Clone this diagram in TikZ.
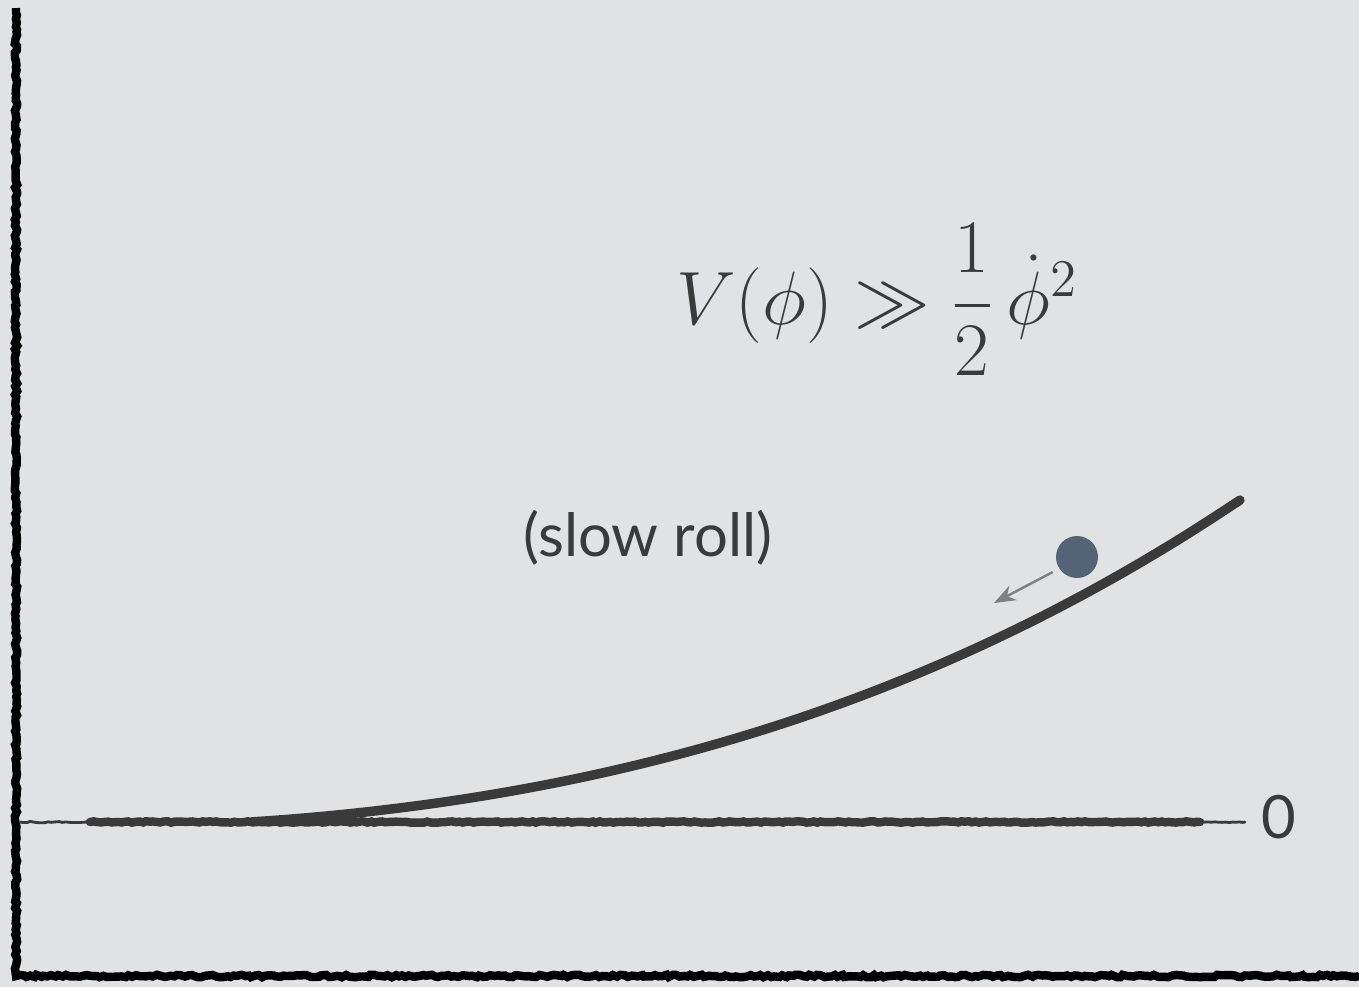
\RequirePackage{fix-cm}
\documentclass[tikz,border=0pt]{standalone}
\usepackage{amsmath,amssymb}
\usepackage{fontspec}
\newfontfamily\gillfont{Lato}
\usetikzlibrary{arrows.meta,decorations.pathmorphing}
\definecolor{paper}{HTML}{E1E2E4}
\definecolor{chalk}{HTML}{3A3A3A}
\definecolor{inkball}{HTML}{546376}
\tikzset{
  chalkaxis/.style={black,line width=2.4pt,decorate,decoration={random steps,segment length=1pt,amplitude=0.35pt}},
  chalkline/.style={chalk,line cap=round,decorate,decoration={random steps,segment length=1pt,amplitude=0.2pt}},
  declare function={rise(\u)=(1-\u/9.9)*(0.02649*\u*\u+0.0631*\u)+(\u/9.9)*3.22*(\u/9.9)^2.066;}
}

\begin{document}
\begin{tikzpicture}[>=Stealth,y=-1cm]
            \fill [paper] (0,0) rectangle (13.59,9.87);
            \useasboundingbox (0,0) rectangle (13.59,9.87);
            % axes
            \coordinate (top) at (0.16,0.08);
            \coordinate (origin) at (0.16,9.76);
            \coordinate (right) at (13.59,9.76);
            \draw [chalkaxis] (top) -- (origin) -- (right);
            \draw [black,line width=1.8pt] (top) -- (origin) -- (right);
            % labels
            \node [text=chalk,font=\fontsize{21.5}{26}\selectfont] (potential) at (8.77,3.00) {$V(\phi)\gg\dfrac{1}{2}\,\dot{\phi}^2$};
            \node [text=chalk,font=\gillfont\fontsize{17}{20}\selectfont] (regime) at (6.48,5.38) {(slow roll)};
            \node [text=chalk,font=\gillfont\fontsize{17}{20}\selectfont] (zero) at (12.79,8.17) {0};
            % zero level
            \coordinate (lvlstart) at (0.20,8.22);
            \coordinate (lvlend) at (12.45,8.22);
            \draw [chalkline,line width=0.8pt] (lvlstart) -- (lvlend);
            \draw [chalkline,line width=2.4pt] (0.90,8.22) -- (12.00,8.22);
            % potential
            \draw [chalk,line width=2.7pt,line cap=round] plot [domain=2.52:12.4,samples=60,smooth] (\x,{8.22-rise(\x-2.5)});
            % field
            \node [circle,fill=inkball,minimum size=4.2mm,inner sep=0pt] (inflaton) at (10.77,5.57) {};
            \coordinate (rolltip) at (9.94,6.03);
            \draw [->,gray,line width=0.7pt,shorten <=2pt] (inflaton.213) -- (rolltip);
        \end{tikzpicture}
\end{document}
